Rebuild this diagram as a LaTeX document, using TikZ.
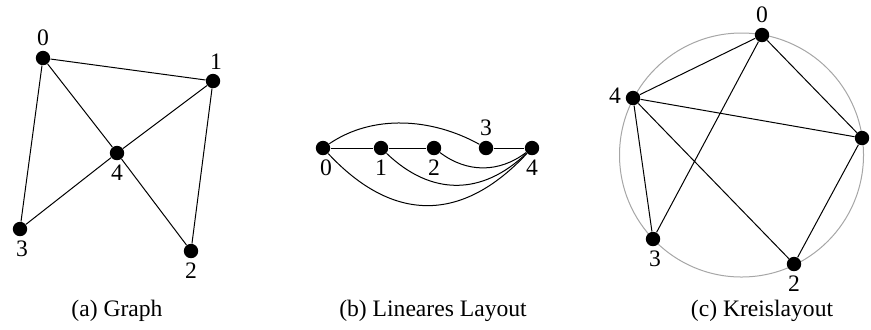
\documentclass[tikz,border=0pt]{standalone}
\usepackage{fontspec}
\newfontfamily\figfont{LiberationSerif}[Extension=.ttf,UprightFont=*-Regular]
\begin{document}
\begin{tikzpicture}[x=0.5pt,y=-0.5pt,
  vtx/.style={circle,fill=black,inner sep=0pt,minimum size=7.2pt},
  every label/.style={inner sep=0pt,font=\figfont\fontsize{11.8}{13}\selectfont},
  label distance=2pt,
  edge/.style={line width=0.5pt},
  captext/.style={font=\figfont\fontsize{11.8}{13}\selectfont,inner sep=0pt}]
\useasboundingbox (0,0) rectangle (871,329);
% (a) Graph
\node[vtx,label={above:0}] (a0) at (43,58) {};
\node[vtx,label={[xshift=1.5pt]above:1}] (a1) at (213,81) {};
\node[vtx,label={below:4}] (a4) at (117,153) {};
\node[vtx,label={[xshift=1pt]below:3}] (a3) at (20,229) {};
\node[vtx,label={below:2}] (a2) at (191,251) {};
\draw[edge] (a0) -- (a1) (a0) -- (a4) (a0) -- (a3) (a1) -- (a4) (a1) -- (a2) (a4) -- (a3) (a4) -- (a2);
\node[captext] (capa) at (117,311) {(a) Graph};
% (b) Lineares Layout
\node[vtx,label={[xshift=1.5pt]below:0}] (b0) at (323,148) {};
\node[vtx,label={below:1}] (b1) at (381,148) {};
\node[vtx,label={below:2}] (b2) at (434,148) {};
\node[vtx,label={above:3}] (b3) at (486,148) {};
\node[vtx,label={below:4}] (b4) at (532,148) {};
\draw[edge] (b0) -- (b1) (b1) -- (b2) (b3) -- (b4);
\draw[edge] (b0) .. controls +(50,-34) and +(-54,-30) .. (b3);
\draw[edge] (b2) .. controls +(33,25) and +(-33,25) .. (b4);
\draw[edge] (b1) .. controls +(50,48) and +(-50,48) .. (b4);
\draw[edge] (b0) .. controls +(70,75) and +(-70,75) .. (b4);
\node[captext] (capb) at (433,311) {(b) Lineares Layout};
% (c) Kreislayout
\coordinate (cc) at (741.5,155);
\draw[gray!70,line width=0.5pt] (cc) circle[radius=61pt];
\node[vtx,label={above:0}] (c0) at (762,35) {};
\node[vtx] (c1) at (862,138) {};
\node[vtx,label={below:2}] (c2) at (794,264) {};
\node[vtx,label={[xshift=1pt]below:3}] (c3) at (653,239) {};
\node[vtx,label={[yshift=1pt]left:4}] (c4) at (633,98) {};
\draw[edge] (c0) -- (c4) (c0) -- (c3) (c0) -- (c1) (c4) -- (c1) (c4) -- (c3) (c4) -- (c2) (c1) -- (c2);
\node[captext] (capc) at (762,311) {(c) Kreislayout};
\end{tikzpicture}
\end{document}
